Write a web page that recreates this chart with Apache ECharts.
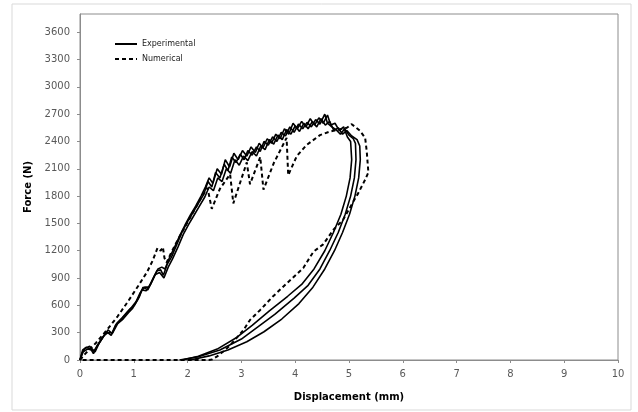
<!DOCTYPE html>
<html>
<head>
<meta charset="utf-8">
<script src="https://cdn.jsdelivr.net/npm/echarts@6/dist/echarts.min.js"></script>
<style>html,body{margin:0;padding:0;background:#fff}#c{width:638px;height:412px}</style>
</head>
<body>
<div id="c"></div>
<script>
// Experimental test 1 (loading + unloading)
const exp1X = [0,0.05,0.12,0.2,0.25,0.32,0.42,0.5,0.58,0.66,0.75,0.85,0.93,1.01,1.1,1.17,1.26,1.35,1.43,1.5,1.55,1.62,1.7,1.8,1.9,2.0,2.1,2.2,2.3,2.38,2.45,2.52,2.6,2.68,2.75,2.82,2.9,2.98,3.05,3.12,3.2,3.28,3.35,3.42,3.5,3.58,3.66,3.74,3.82,3.9,3.98,4.06,4.14,4.22,4.3,4.38,4.46,4.55,4.6,4.68,4.76,4.84,4.92,5.0,5.08,5.12,
  5.13,5.1,5.03,4.93,4.8,4.64,4.46,4.24,3.98,3.62,3.3,3.0,2.6,2.2,1.85];
const exp1Y = [0,110,140,120,70,160,250,310,270,380,440,500,560,600,690,800,770,880,980,990,930,1050,1130,1270,1410,1520,1620,1720,1820,1960,1900,2060,2000,2150,2080,2230,2170,2260,2200,2300,2250,2340,2290,2400,2360,2450,2400,2500,2460,2560,2500,2590,2540,2610,2560,2640,2590,2700,2600,2560,2530,2480,2540,2470,2430,2380,
  2200,2000,1800,1600,1400,1200,1000,820,680,500,360,230,110,35,0];
// Experimental test 2
const exp2X = [0,0.06,0.14,0.22,0.28,0.36,0.45,0.52,0.6,0.68,0.78,0.88,0.96,1.04,1.12,1.2,1.28,1.37,1.45,1.52,1.58,1.66,1.75,1.85,1.95,2.05,2.15,2.25,2.33,2.4,2.47,2.55,2.63,2.7,2.78,2.86,2.94,3.02,3.1,3.18,3.26,3.33,3.4,3.48,3.56,3.64,3.72,3.8,3.88,3.96,4.04,4.12,4.2,4.28,4.36,4.44,4.52,4.6,4.66,4.74,4.82,4.9,4.97,5.03,
  5.05,5.02,4.95,4.85,4.71,4.55,4.35,4.12,3.86,3.52,3.2,2.92,2.55,2.2,1.9];
const exp2Y = [0,90,120,110,90,190,270,300,300,400,460,530,580,640,740,800,800,910,1000,1020,1000,1120,1230,1360,1480,1590,1690,1800,1900,2000,1940,2100,2040,2200,2120,2270,2200,2300,2240,2340,2280,2380,2330,2430,2380,2480,2430,2540,2480,2600,2540,2620,2560,2650,2580,2660,2600,2690,2580,2600,2520,2560,2450,2400,
  2200,2000,1800,1600,1400,1200,1000,830,700,540,380,250,120,40,0];
// Experimental test 3
const exp3X = [0,0.04,0.1,0.18,0.26,0.34,0.44,0.52,0.6,0.7,0.8,0.9,0.98,1.07,1.15,1.23,1.32,1.4,1.48,1.56,1.64,1.72,1.82,1.92,2.02,2.12,2.22,2.32,2.4,2.48,2.56,2.64,2.72,2.8,2.88,2.96,3.04,3.12,3.2,3.28,3.36,3.44,3.52,3.6,3.68,3.76,3.84,3.92,4.0,4.08,4.16,4.24,4.32,4.4,4.48,4.56,4.64,4.72,4.8,4.88,4.96,5.05,5.15,5.2,
  5.21,5.18,5.11,5.01,4.88,4.73,4.55,4.33,4.07,3.75,3.42,3.1,2.75,2.4,2.05];
const exp3Y = [0,80,130,150,100,170,260,330,290,400,450,520,570,660,770,760,840,940,960,900,1020,1110,1240,1380,1490,1590,1690,1790,1900,1860,2000,1960,2100,2050,2200,2140,2240,2190,2290,2240,2350,2310,2420,2370,2470,2420,2530,2480,2570,2510,2600,2540,2620,2560,2650,2580,2620,2520,2550,2480,2520,2460,2420,2350,
  2200,2000,1800,1600,1400,1200,1000,800,620,450,310,200,110,45,0];
// Numerical
const numX = [0,0.1,0.3,0.5,0.7,0.9,1.1,1.25,1.35,1.44,1.5,1.54,1.57,1.61,1.68,1.8,1.95,2.1,2.25,2.37,2.4,2.45,2.6,2.79,2.85,3.0,3.1,3.16,3.35,3.41,3.6,3.84,3.87,4.03,4.21,4.46,4.65,4.96,5.05,5.2,5.3,5.33,5.36,5.3,5.17,5.08,4.89,4.71,4.52,4.34,4.15,3.84,3.59,3.35,3.16,3.04,2.85,2.7,2.55,2.45,2.4,1.5,0];
const numY = [0,70,190,330,480,650,830,970,1090,1230,1200,1240,1120,1070,1160,1300,1460,1620,1780,1890,1900,1660,1880,2040,1720,1990,2170,1930,2230,1870,2160,2440,2030,2240,2360,2470,2510,2550,2590,2520,2440,2290,2060,1980,1830,1740,1540,1430,1270,1190,1010,840,700,550,440,330,200,110,40,5,0,0,0];

const pairs = (xs, ys) => xs.map((x, i) => [x, ys[i]]);

const chart = echarts.init(document.getElementById('c'));
const font = 'DejaVu Sans, Verdana, sans-serif';
const expStyle = { color: '#000', width: 1.6, type: 'solid' };
chart.setOption({
  animation: false,
  backgroundColor: '#fff',
  graphic: [{
    type: 'rect', shape: { x: 12, y: 4, width: 619, height: 406 },
    style: { fill: 'none', stroke: '#d9d9d9', lineWidth: 1 }, silent: true
  }],
  grid: { left: 80, right: 20, top: 14, bottom: 52, show: true, borderColor: '#8c8c8c', borderWidth: 1 },
  legend: {
    orient: 'vertical', left: 109, top: 35, itemGap: 7,
    itemWidth: 22, itemHeight: 8,
    itemStyle: { color: 'rgba(0,0,0,0)', borderWidth: 0, borderColor: 'rgba(0,0,0,0)' },
    textStyle: { fontFamily: font, fontSize: 8, color: '#222' },
    data: ['Experimental', 'Numerical']
  },
  xAxis: {
    type: 'value', min: 0, max: 10, interval: 1,
    name: 'Displacement (mm)', nameLocation: 'middle', nameGap: 32,
    nameTextStyle: { fontFamily: font, fontSize: 10, fontWeight: 'bold', color: '#000' },
    axisLine: { lineStyle: { color: '#8c8c8c' } },
    axisTick: { show: true, length: 3, inside: false, lineStyle: { color: '#8c8c8c' } },
    axisLabel: { fontFamily: font, fontSize: 10, color: '#595959', margin: 9 },
    splitLine: { show: false }
  },
  yAxis: {
    type: 'value', min: 0, max: 3800, interval: 300,
    name: 'Force (N)', nameLocation: 'middle', nameGap: 41, nameRotate: 90,
    nameTextStyle: { fontFamily: font, fontSize: 10, fontWeight: 'bold', color: '#000' },
    axisLine: { show: true, lineStyle: { color: '#8c8c8c' } },
    axisTick: { show: true, length: 3, lineStyle: { color: '#8c8c8c' } },
    axisLabel: { fontFamily: font, fontSize: 10, color: '#595959', margin: 10, showMaxLabel: false,
      formatter: v => String(v) },
    splitLine: { show: false }
  },
  series: [
    { name: 'Experimental', type: 'line', symbol: 'none', data: pairs(exp1X, exp1Y), lineStyle: expStyle, itemStyle: { color: '#000' } },
    { name: 'Experimental', type: 'line', symbol: 'none', data: pairs(exp2X, exp2Y), lineStyle: expStyle, itemStyle: { color: '#000' } },
    { name: 'Experimental', type: 'line', symbol: 'none', data: pairs(exp3X, exp3Y), lineStyle: expStyle, itemStyle: { color: '#000' } },
    { name: 'Numerical', type: 'line', symbol: 'none', data: pairs(numX, numY), lineStyle: { color: '#000', width: 2, type: [4, 3] }, itemStyle: { color: '#000' } }
  ]
});
</script>
</body>
</html>
